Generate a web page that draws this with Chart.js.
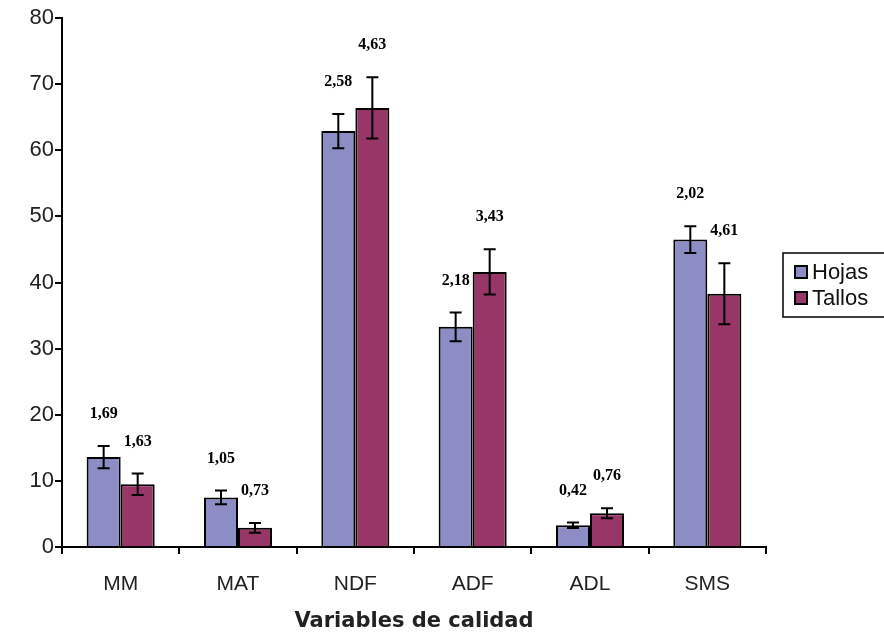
<!DOCTYPE html>
<html>
<head>
<meta charset="utf-8">
<script src="https://cdn.jsdelivr.net/npm/chart.js@4/dist/chart.umd.min.js"></script>
<style>
  html, body { margin: 0; padding: 0; background: #fff; }
  #wrap { width: 884px; height: 634px; position: relative; }
</style>
</head>
<body>
<div id="wrap"><canvas id="chart"></canvas></div>
<script>
// categories and values
const categories = ['MM', 'MAT', 'NDF', 'ADF', 'ADL', 'SMS'];
const hojas = [13.6, 7.5, 62.9, 33.3, 3.3, 46.5];
const tallos = [9.5, 2.9, 66.4, 41.6, 5.1, 38.3];
// standard errors (also printed as labels)
const hojasErr = [1.69, 1.05, 2.58, 2.18, 0.42, 2.02];
const tallosErr = [1.63, 0.73, 4.63, 3.43, 0.76, 4.61];
const yTicks = [0, 10, 20, 30, 40, 50, 60, 70, 80];

const errors = [hojasErr, tallosErr];

// error bars + value labels
const errorBarPlugin = {
    id: 'errorBars',
    afterDatasetsDraw(chart) {
        const ctx = chart.ctx;
        const y = chart.scales.y;
        ctx.save();
        chart.data.datasets.forEach(function(ds, di) {
            const meta = chart.getDatasetMeta(di);
            meta.data.forEach(function(bar, i) {
                const v = ds.data[i];
                const e = errors[di][i];
                const top = y.getPixelForValue(v + e);
                const bot = y.getPixelForValue(v - e);
                ctx.strokeStyle = '#000';
                ctx.lineWidth = 2;
                ctx.beginPath();
                ctx.moveTo(bar.x, top);
                ctx.lineTo(bar.x, bot);
                ctx.moveTo(bar.x - 6, top);
                ctx.lineTo(bar.x + 6, top);
                ctx.moveTo(bar.x - 6, bot);
                ctx.lineTo(bar.x + 6, bot);
                ctx.stroke();

                ctx.fillStyle = '#000';
                ctx.font = 'bold 16px "Liberation Serif"';
                ctx.textAlign = 'center';
                ctx.textBaseline = 'bottom';
                ctx.fillText(e.toFixed(2).replace('.', ','), bar.x, top - 24);
            });
        });
        ctx.restore();
    }
};

// legend box on the right side (partly cut off like the original)
const legendBoxPlugin = {
    id: 'legendBox',
    afterDraw(chart) {
        const ctx = chart.ctx;
        const x0 = chart.chartArea.right + 17;
        const y0 = 253;
        ctx.save();
        ctx.fillStyle = '#fff';
        ctx.fillRect(x0, y0, 120, 64);
        ctx.strokeStyle = '#000';
        ctx.lineWidth = 1.5;
        ctx.strokeRect(x0, y0, 120, 64);
        ctx.font = '22px "Liberation Sans"';
        ctx.textBaseline = 'middle';
        ctx.textAlign = 'left';
        chart.data.datasets.forEach(function(ds, i) {
            const cy = y0 + 19 + i * 26;
            ctx.fillStyle = ds.backgroundColor;
            ctx.fillRect(x0 + 12, cy - 6, 12, 12);
            ctx.lineWidth = 2;
            ctx.strokeRect(x0 + 12, cy - 6, 12, 12);
            ctx.fillStyle = '#111';
            ctx.fillText(ds.label, x0 + 29, cy + 1);
        });
        ctx.restore();
    }
};

new Chart(document.getElementById('chart'), {
    type: 'bar',
    data: {
        labels: categories,
        datasets: [
            {
                label: 'Hojas',
                data: hojas,
                backgroundColor: '#8b8dc4',
                borderColor: '#000',
                borderWidth: 2,
                categoryPercentage: 0.58,
                barPercentage: 1
            },
            {
                label: 'Tallos',
                data: tallos,
                backgroundColor: '#993668',
                borderColor: '#000',
                borderWidth: 2,
                categoryPercentage: 0.58,
                barPercentage: 1
            }
        ]
    },
    options: {
        responsive: true,
        maintainAspectRatio: false,
        animation: false,
        layout: {
            padding: { top: 18, right: 118, left: 0, bottom: 0 }
        },
        plugins: {
            legend: { display: false },
            tooltip: { enabled: false }
        },
        scales: {
            x: {
                grid: {
                    display: true,
                    drawOnChartArea: false,
                    drawTicks: true,
                    tickLength: 7,
                    color: '#000',
                    lineWidth: 2
                },
                border: { color: '#000', width: 2 },
                ticks: {
                    color: '#222',
                    font: { family: '"Liberation Sans"', size: 21 },
                    padding: 18
                },
                title: {
                    display: true,
                    text: 'Variables de calidad',
                    color: '#222',
                    font: { family: '"DejaVu Sans"', size: 21, weight: 'bold' },
                    padding: { top: 4, bottom: 0 }
                },
                afterFit(scale) { scale.height = 87; }
            },
            y: {
                min: 0,
                max: 80,
                afterBuildTicks(scale) {
                    scale.ticks = yTicks.map(function(v) { return { value: v }; });
                },
                grid: {
                    display: true,
                    drawOnChartArea: false,
                    drawTicks: true,
                    tickLength: 7,
                    color: '#000',
                    lineWidth: 2
                },
                border: { color: '#000', width: 2 },
                ticks: {
                    color: '#222',
                    font: { family: '"Liberation Sans"', size: 22 },
                    padding: 1
                },
                afterFit(scale) { scale.width = 62; }
            }
        }
    },
    plugins: [errorBarPlugin, legendBoxPlugin]
});
</script>
</body>
</html>
